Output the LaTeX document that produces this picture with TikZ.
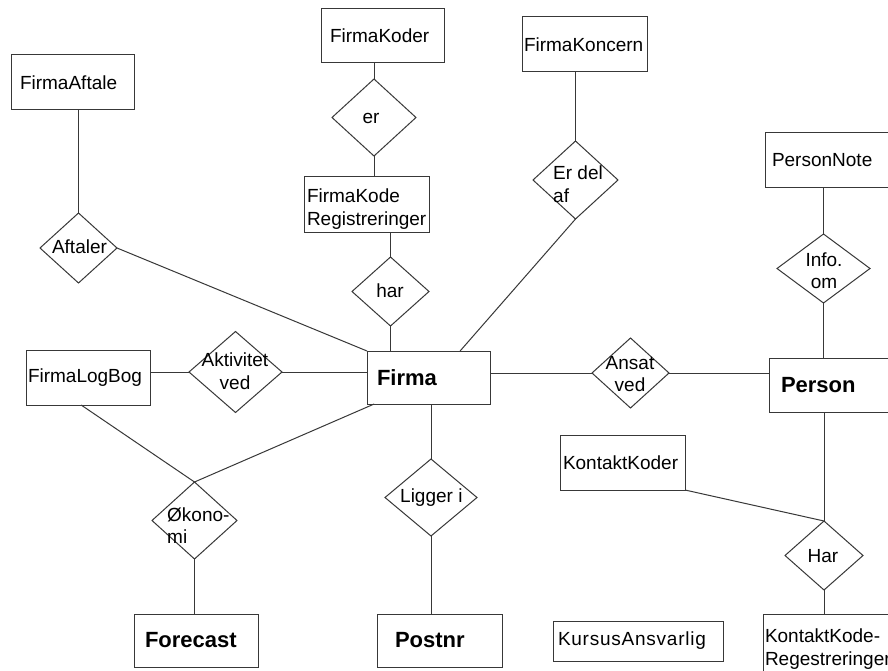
\documentclass[tikz,border=0pt]{standalone}
\usepackage{fontspec}
\setmainfont{Liberation Sans}
\usetikzlibrary{shapes.geometric}
\newcommand\erfont{\fontsize{19pt}{22.5pt}\selectfont}
\newcommand\erbold{\fontsize{22pt}{26pt}\selectfont\bfseries}
\begin{document}
\begin{tikzpicture}[x=1pt,y=-1pt,
  link/.style={draw=black!78, line width=1pt},
  entity/.style={draw=black!78, line width=1pt, rectangle, inner ysep=0pt,
    outer sep=0pt, align=left, font=\erfont},
  strong/.style={entity, font=\erbold},
  ebox/.style n args={4}{minimum width=#1, minimum height=#2,
    inner xsep=#3, text width=#4},
  rel/.style 2 args={diamond, draw=black!78, line width=1pt, inner sep=0pt,
    outer sep=0pt, minimum width=#1, minimum height=#2},
  rtext/.style={inner sep=0pt, font=\erfont},
  ctext/.style={rtext, align=center},
  ltext/.style={rtext, align=left, anchor=west}]

\useasboundingbox (0,0) rectangle (888,671);
\clip (0,0) rectangle (888,671);
\fill[white] (0,0) rectangle (888,671);

% entities
\node[entity, ebox={123pt}{55pt}{9pt}{105pt}] (aftale) at (72.5,82.5) {FirmaAftale};
\node[entity, ebox={123pt}{54pt}{9pt}{105pt}] (koder) at (382.5,36) {FirmaKoder};
\node[entity, ebox={125pt}{55pt}{3pt}{119pt}, text depth=17pt] (kodereg) at (366.5,204.5) {FirmaKode\\Registreringer};
\node[entity, ebox={125pt}{55pt}{2pt}{121pt}] (koncern) at (584.5,44.5) {FirmaKoncern};
\node[entity, ebox={125pt}{55pt}{7pt}{111pt}] (pnote) at (827.5,160.5) {PersonNote};
\node[entity, ebox={124pt}{55pt}{2pt}{120pt}] (logbog) at (88,377.5) {FirmaLogBog};
\node[strong, ebox={123pt}{53pt}{10pt}{103pt}] (firma) at (428.5,377.5) {Firma};
\node[strong, ebox={124pt}{54pt}{12pt}{100pt}] (person) at (831,385) {Person};
\node[entity, ebox={125pt}{55pt}{3pt}{119pt}] (kkoder) at (622.5,462.5) {KontaktKoder};
\node[strong, ebox={124pt}{53pt}{11pt}{102pt}] (forecast) at (196,640.5) {Forecast};
\node[strong, ebox={125pt}{53pt}{18pt}{89pt}] (postnr) at (439.5,640.5) {Postnr};
\node[entity, ebox={170pt}{40pt}{5pt}{160pt}] (kursus) at (638,641)
  {\addfontfeature{LetterSpace=4}KursusAnsvarlig};
\node[entity, ebox={127pt}{70pt}{2pt}{123pt}] (kkreg) at (826.5,649) {KontaktKode-\\Regestreringer};

% relationships
\node[rel={84pt}{77pt}] (r-er) at (374,117.5) {};
\node[rel={77pt}{69pt}] (r-har) at (390.5,291.5) {};
\node[rel={77pt}{70pt}] (r-aftaler) at (78.5,248) {};
\node[rel={85pt}{78pt}] (r-erdel) at (575.5,180) {};
\node[rel={93pt}{69pt}] (r-info) at (823.5,268.5) {};
\node[rel={93pt}{81pt}] (r-akt) at (235.5,372) {};
\node[rel={92pt}{77pt}] (r-ligger) at (431,497.5) {};
\node[rel={85pt}{77pt}] (r-okon) at (194.5,520.5) {};
\node[rel={77pt}{70pt}] (r-ansat) at (630.5,373) {};
\node[rel={78pt}{69pt}] (r-harp) at (824,555.5) {};

% relationship texts
\node[ctext] (t-er) at (371,118) {er};
\node[ctext] (t-har) at (390,291) {har};
\node[ctext] (t-aftaler) at (79.5,247) {Aftaler};
\node[ltext] (t-erdel) at (553,184) {Er del\\af};
\node[ctext] (t-info) at (824,270.5) {Info.\\om};
\node[ctext] (t-akt) at (235,371) {Aktivitet\\ved};
\node[ltext] (t-ligger) at (400,498) {Ligger i};
\node[ltext] (t-okon) at (167,525.5) {Økono-\\mi};
\node[ctext] (t-ansat) at (630,374) {Ansat\\ved};
\node[ctext] (t-harp) at (823,556) {Har};

% connectors
\draw[link] (r-er.north |- koder.south) -- (r-er.north);
\draw[link] (r-er.south) -- (r-er.south |- kodereg.north);
\draw[link] (r-har.north |- kodereg.south) -- (r-har.north);
\draw[link] (r-har.south) -- (r-har.south |- firma.north);
\draw[link] (r-aftaler.north |- aftale.south) -- (r-aftaler.north);
\draw[link] (r-aftaler.east) -- (firma.north west);
\draw[link] (r-erdel.north |- koncern.south) -- (r-erdel.north);
\draw[link] (r-erdel.south) -- (firma.40);
\draw[link] (r-info.north |- pnote.south) -- (r-info.north);
\draw[link] (r-info.south) -- (r-info.south |- person.north);
\draw[link] (r-akt.west -| logbog.east) -- (r-akt.west);
\draw[link] (r-akt.east) -- (r-akt.east -| firma.west);
\draw[link] (r-ansat.west -| firma.east) -- (r-ansat.west);
\draw[link] (r-ansat.east) -- (r-ansat.east -| person.west);
\draw[link] (r-ligger.north |- firma.south) -- (r-ligger.north);
\draw[link] (r-ligger.south) -- (r-ligger.south |- postnr.north);
\draw[link] (logbog.-104) -- (r-okon.north);
\draw[link] (firma.206) -- (r-okon.north);
\draw[link] (r-okon.south) -- (r-okon.south |- forecast.north);
\draw[link] (r-harp.north |- person.south) -- (r-harp.north);
\draw[link] (kkoder.south east) -- (r-harp.north);
\draw[link] (r-harp.south) -- (r-harp.south |- kkreg.north);
\end{tikzpicture}
\end{document}
